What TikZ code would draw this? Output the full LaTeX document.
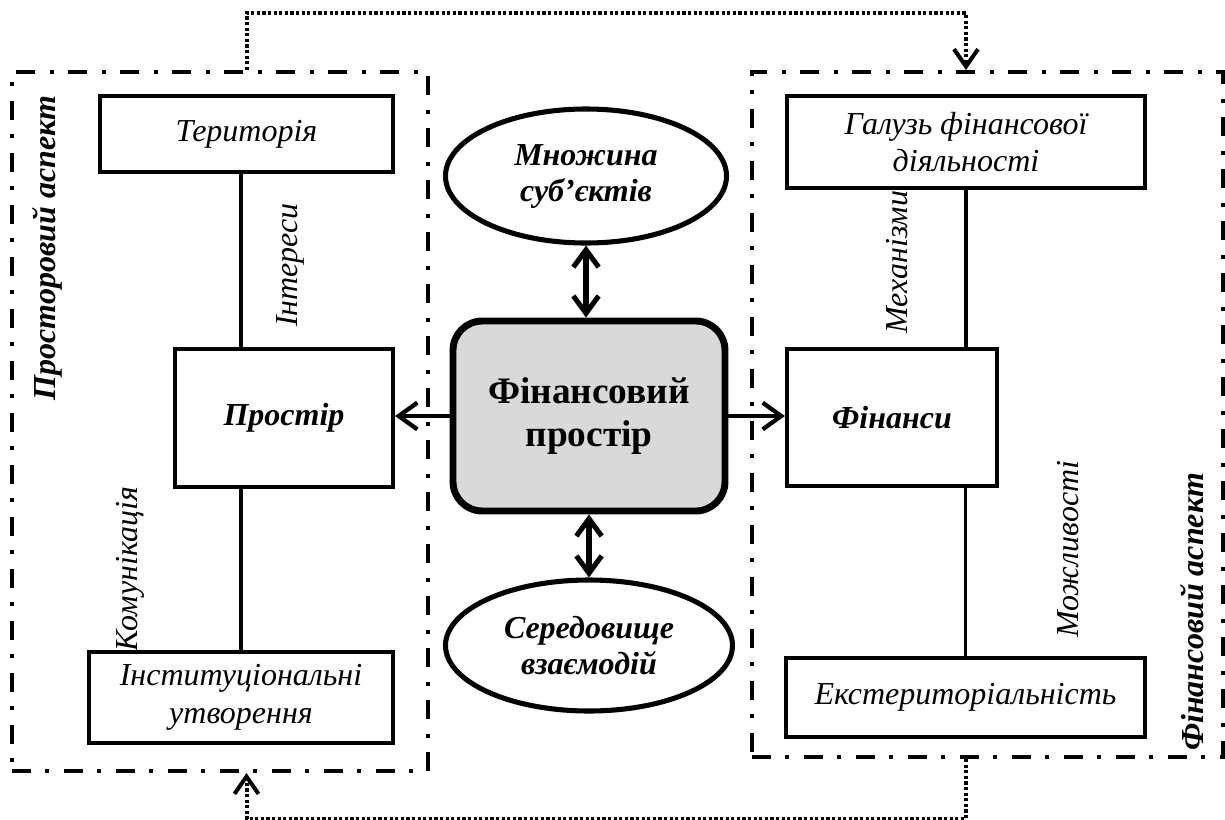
\documentclass[tikz,border=0pt]{standalone}
\usepackage{fontspec}
\setmainfont{Liberation Serif}
\usetikzlibrary{arrows.meta,fit,shapes.geometric}
\definecolor{boxgray}{HTML}{D9D9D9}
\newcommand\Px{0.375pt}

\begin{document}
\begin{tikzpicture}[x=0.375pt, y=-0.375pt,
  every node/.style={font=\fontsize{12}{14}\selectfont, align=center, inner sep=0pt},
  box/.style={draw, line width=1.5pt, fill=white},
  mainbox/.style={draw, line width=2.6pt, rounded corners=11pt, fill=boxgray, font=\fontsize{14}{16}\selectfont\bfseries},
  oval/.style={draw, ellipse, line width=1.9pt, font=\fontsize{12}{13.5}\selectfont\bfseries\itshape},
  group/.style={draw, line width=1.5pt, dash pattern=on 7pt off 5.5pt on 1.5pt off 5.5pt, inner sep=0pt},
  link/.style={line width=1.3pt},
  flow/.style={line width=1.6pt, -{Straight Barb[length=7pt,width=10pt]}},
  twoway/.style={line width=1.9pt, {Straight Barb[length=6.5pt,width=9.5pt]}-{Straight Barb[length=6.5pt,width=9.5pt]}},
  feedback/.style={line width=1.5pt, dash pattern=on 1.2pt off 0.9pt, -{Straight Barb[length=6.5pt,width=9pt,line width=1.5pt]}},
  aspect/.style={rotate=90, font=\fontsize{12}{14}\selectfont\bfseries\itshape}]

  \useasboundingbox (0,0) rectangle (1225,819);

  \node[group, fit={(12,72) (428,771)}] (leftgrp) {};
  \node[group, fit={(752,72) (1223,757)}] (rightgrp) {};

  \node[box, minimum width=293*\Px, minimum height=76*\Px] (terr) at (246.5,134) {\itshape Територія};
  \node[box, minimum width=218*\Px, minimum height=138*\Px] (prostir) at (284,418) {\bfseries\itshape Простір};
  \node[box, minimum width=304*\Px, minimum height=91*\Px] (inst) at (241,697.5) {\itshape Інституціональні\\\itshape утворення};

  \node[box, minimum width=358*\Px, minimum height=92*\Px] (galuz) at (966,142) {\itshape Галузь фінансової\\\itshape діяльності};
  \node[box, minimum width=210*\Px, minimum height=137*\Px] (fin) at (892,417.5) {\bfseries\itshape Фінанси};
  \node[box, minimum width=359*\Px, minimum height=79*\Px] (ekster) at (965.5,697.5) {\itshape Екстериторіальність};

  \node[mainbox, minimum width=272*\Px, minimum height=190*\Px] (centre) at (589,416) {Фінансовий\\простір};
  \node[oval, minimum width=281*\Px, minimum height=134*\Px] (mnoz) at (586,176) {Множина\\суб’єктів};
  \node[oval, minimum width=287*\Px, minimum height=131*\Px] (sered) at (589,645.5) {Середовище\\взаємодій};

  \node[rotate=90] (interes) at (290,265) {\itshape Інтереси};
  \node[rotate=90] (komun) at (130,569) {\itshape Комунікація};
  \node[rotate=90] (mehan) at (897,262) {\itshape Механізми};
  \node[rotate=90] (mozhl) at (1068,549) {\itshape Можливості};
  \node[aspect] (asp1) at (47,248) {Просторовий аспект};
  \node[aspect] (asp2) at (1192,612) {Фінансовий аспект};

  \draw[link] (terr.south -| inst.north) -- (prostir.north -| inst.north);
  \draw[link] (prostir.south -| inst.north) -- (inst.north);
  \draw[link] (galuz.south) -- (galuz.south |- fin.north);
  \draw[link] (fin.south -| ekster.north) -- (ekster.north);

  \draw[flow] (centre.west) -- (centre.west -| prostir.east);
  \draw[flow] (centre.east) -- (centre.east -| fin.west);
  \draw[twoway] (mnoz.south) -- (mnoz.south |- centre.north);
  \draw[twoway] (centre.south) -- (centre.south |- sered.north);

  \draw[feedback] (leftgrp.north -| terr.north) -- ++(0,-57) -| (rightgrp.north -| galuz.north);
  \draw[feedback] (rightgrp.south -| ekster.south) -- ++(0,60) -| (leftgrp.south -| terr.south);

\end{tikzpicture}
\end{document}
